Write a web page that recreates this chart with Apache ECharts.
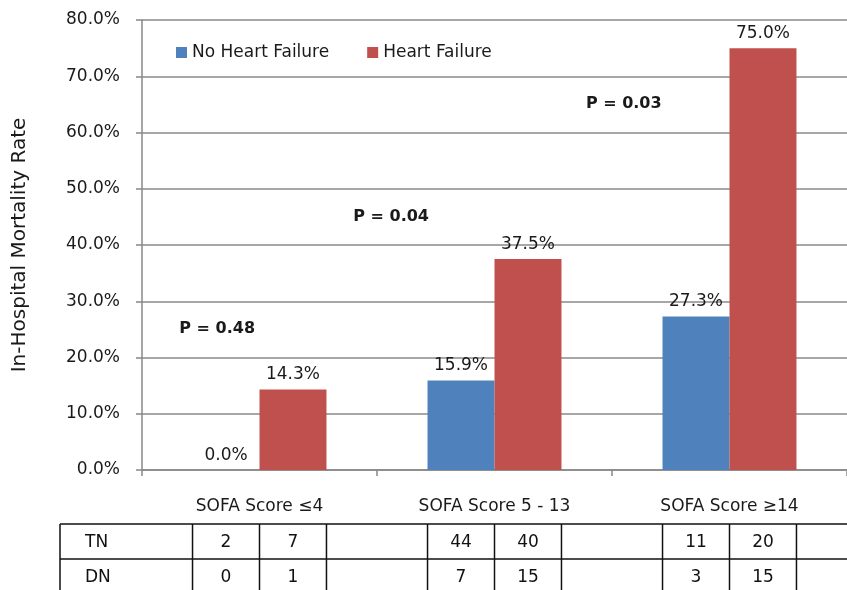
<!DOCTYPE html>
<html>
<head>
<meta charset="utf-8">
<script src="https://cdn.jsdelivr.net/npm/echarts@6/dist/echarts.min.js"></script>
<style>
html,body{margin:0;padding:0;background:#fff;}
#chart{width:847px;height:590px;}
</style>
</head>
<body>
<div id="chart"></div>
<script>
const categories = ['SOFA Score ≤4', 'SOFA Score 5 - 13', 'SOFA Score ≥14'];
const noHeartFailure = [0.0, 15.9, 27.3];
const heartFailure = [14.3, 37.5, 75.0];
const pValues = ['P = 0.48', 'P = 0.04', 'P = 0.03'];
const pValueLevels = [25.1, 45.0, 65.1];
const pValueOffsets = [-0.18, -0.44, -0.45];
const tnNoHF = [2, 44, 11];
const tnHF = [7, 40, 20];
const dnNoHF = [0, 7, 3];
const dnHF = [1, 15, 15];
const rowLabels = ['TN', 'DN'];

const FONT = '"DejaVu Sans", sans-serif';
const BLUE = '#4F81BD';
const RED = '#C0504D';
const TXT = '#1a1a1a';

const chart = echarts.init(document.getElementById('chart'));

const labelStyle = {
  show: true, position: 'top', distance: 6,
  formatter: p => p.value.toFixed(1) + '%',
  fontFamily: FONT, fontSize: 17, color: TXT
};

const option = {
  animation: false,
  backgroundColor: '#fff',
  grid: { left: 142, top: 20, bottom: 120, width: 712, containLabel: false },
  legend: {
    data: ['No Heart Failure', 'Heart Failure'],
    left: 171, top: 39, itemWidth: 11, itemHeight: 11, itemGap: 38,
    icon: 'rect',
    textStyle: { fontFamily: FONT, fontSize: 17, color: TXT }
  },
  xAxis: {
    type: 'category', data: categories,
    axisLine: { lineStyle: { color: '#888', width: 1.5 } },
    axisTick: { show: true, length: 6, lineStyle: { color: '#888', width: 1.5 } },
    axisLabel: { margin: 28, fontFamily: FONT, fontSize: 17, color: TXT }
  },
  yAxis: {
    type: 'value', min: 0, max: 80, interval: 10,
    name: 'In-Hospital Mortality Rate', nameLocation: 'middle', nameGap: 112,
    nameTextStyle: { fontFamily: FONT, fontSize: 20, color: TXT },
    axisLine: { show: true, lineStyle: { color: '#888', width: 1.5 } },
    axisTick: { show: true, length: 6, lineStyle: { color: '#888', width: 1.5 } },
    axisLabel: { margin: 22, formatter: v => v.toFixed(1) + '%', fontFamily: FONT, fontSize: 17, color: TXT },
    splitLine: { lineStyle: { color: '#8a8a8a', width: 1.5 } }
  },
  series: [
    { name: 'No Heart Failure', type: 'bar', data: noHeartFailure, barWidth: '28.5%', barGap: '0%',
      itemStyle: { color: BLUE }, label: labelStyle },
    { name: 'Heart Failure', type: 'bar', data: heartFailure, barWidth: '28.5%', barGap: '0%',
      itemStyle: { color: RED }, label: labelStyle }
  ]
};
chart.setOption(option);

// P-value annotations and the table below, aligned through the chart's scales
function buildExtras() {
  const c0 = chart.convertToPixel({ xAxisIndex: 0 }, 0);
  const c1 = chart.convertToPixel({ xAxisIndex: 0 }, 1);
  const catW = c1 - c0;
  const bw = catW * 0.285;
  const els = [];
  pValues.forEach((t, i) => {
    const cx = chart.convertToPixel({ xAxisIndex: 0 }, i) + pValueOffsets[i] * catW;
    const cy = chart.convertToPixel({ yAxisIndex: 0 }, pValueLevels[i]);
    els.push({ type: 'text', x: cx, y: cy, silent: true,
      style: { text: t, fontFamily: FONT, fontSize: 16, fontWeight: 'bold', fill: TXT,
               align: 'center', verticalAlign: 'middle' } });
  });
  const yTop = 524, yMid = 559, yBot = 594;
  const line = (x1, y1, x2, y2) => els.push({ type: 'line', shape: { x1, y1, x2, y2 },
    style: { stroke: '#111', lineWidth: 1.5 }, silent: true });
  const text = (x, y, t, align) => els.push({ type: 'text', x, y, silent: true,
    style: { text: String(t), fontFamily: FONT, fontSize: 17, fill: '#111', align: align || 'center', verticalAlign: 'middle' } });
  const left = 60, right = 860;
  line(left, yTop, right, yTop);
  line(left, yMid, right, yMid);
  line(left, yBot, right, yBot);
  line(left, yTop, left, yBot);
  const rows = [[tnNoHF, tnHF], [dnNoHF, dnHF]];
  const ys = [(yTop + yMid) / 2 + 1, (yMid + yBot) / 2 + 1];
  rowLabels.forEach((r, k) => text(85, ys[k], r, 'left'));
  categories.forEach((c, i) => {
    const cx = chart.convertToPixel({ xAxisIndex: 0 }, i);
    [cx - bw, cx, cx + bw].forEach(x => line(x, yTop, x, yBot));
    rows.forEach((pair, k) => {
      text(cx - bw / 2, ys[k], pair[0][i]);
      text(cx + bw / 2, ys[k], pair[1][i]);
    });
  });
  chart.setOption({ graphic: { elements: els } });
}
buildExtras();
</script>
</body>
</html>
